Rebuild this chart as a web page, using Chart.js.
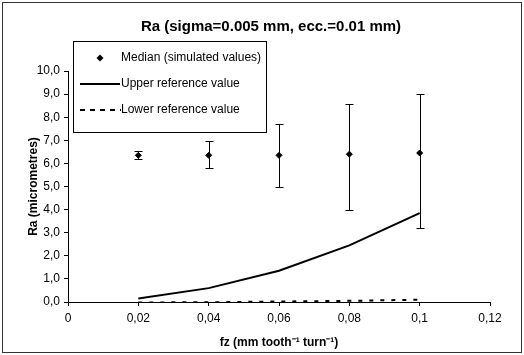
<!DOCTYPE html>
<html>
<head>
<meta charset="utf-8">
<script src="https://cdn.jsdelivr.net/npm/chart.js@4.4.0/dist/chart.umd.min.js"></script>
<style>
    html, body { margin: 0; padding: 0; background: #fff; }
    #wrap { width: 524px; height: 355px; position: relative; }
</style>
</head>
<body>
<div id="wrap"><canvas id="chart"></canvas></div>
<script>
// Data
const fz = [0.02, 0.04, 0.06, 0.08, 0.1];
const medianRa = [6.35, 6.35, 6.35, 6.4, 6.45];
const errLow = [6.2, 5.8, 5.0, 4.0, 3.2];
const errHigh = [6.55, 6.95, 7.7, 8.55, 9.0];
const upperRef = [0.15, 0.6, 1.35, 2.45, 3.85];
const lowerRef = [-0.02, -0.01, 0.02, 0.05, 0.1];

const xTickLabels = ['0', '0,02', '0,04', '0,06', '0,08', '0,1', '0,12'];
const yTickLabels = ['0,0', '1,0', '2,0', '3,0', '4,0', '5,0', '6,0', '7,0', '8,0', '9,0', '10,0'];

const chartTitle = 'Ra (sigma=0.005 mm, ecc.=0.01 mm)';

const FONT = 'Arial, "Liberation Sans", sans-serif';

function toPoints(ys) {
    return fz.map((x, i) => ({ x: x, y: ys[i] }));
}

// Error bars around the medians
const errorBars = {
    id: 'errorBars',
    afterDatasetsDraw(chart) {
        const ctx = chart.ctx;
        const xs = chart.scales.x, ys = chart.scales.y;
        ctx.save();
        ctx.strokeStyle = '#000';
        ctx.lineWidth = 1;
        fz.forEach((x, i) => {
            const px = Math.round(xs.getPixelForValue(x)) + 0.5;
            const lo = Math.round(ys.getPixelForValue(errLow[i])) + 0.5;
            const hi = Math.round(ys.getPixelForValue(errHigh[i])) + 0.5;
            ctx.beginPath();
            ctx.moveTo(px, lo); ctx.lineTo(px, hi);
            ctx.moveTo(px - 4, lo); ctx.lineTo(px + 4, lo);
            ctx.moveTo(px - 4, hi); ctx.lineTo(px + 4, hi);
            ctx.stroke();
        });
        ctx.restore();
    }
};

// Title, outer frame and the boxed legend inside the plot
const decorations = {
    id: 'decorations',
    afterDraw(chart) {
        const ctx = chart.ctx;
        ctx.save();
        ctx.strokeStyle = '#333';
        ctx.lineWidth = 1;
        ctx.strokeRect(2.5, 2.5, 519, 350);

        ctx.fillStyle = '#000';
        ctx.textAlign = 'center';
        ctx.textBaseline = 'middle';
        ctx.font = 'bold 15px ' + FONT;
        ctx.fillText(chartTitle, 271, 27);

        ctx.strokeStyle = '#000';
        ctx.fillStyle = '#fff';
        ctx.fillRect(73.5, 41.5, 193, 91);
        ctx.strokeRect(73.5, 41.5, 193, 91);

        ctx.font = '12px ' + FONT;
        ctx.textAlign = 'left';
        ctx.fillStyle = '#000';
        const ds = chart.data.datasets;
        const rows = [58, 84, 110];

        // median marker
        ctx.beginPath();
        ctx.moveTo(100, rows[0] - 3.5); ctx.lineTo(103.5, rows[0]);
        ctx.lineTo(100, rows[0] + 3.5); ctx.lineTo(96.5, rows[0]);
        ctx.closePath(); ctx.fill();
        ctx.fillText(ds[0].label, 121, rows[0]);

        ctx.lineWidth = 2;
        ctx.beginPath();
        ctx.moveTo(80, rows[1]); ctx.lineTo(120, rows[1]);
        ctx.stroke();
        ctx.fillText(ds[1].label, 121, rows[1]);

        ctx.setLineDash([5, 5]);
        ctx.beginPath();
        ctx.moveTo(80, rows[2]); ctx.lineTo(121, rows[2]);
        ctx.stroke();
        ctx.setLineDash([]);
        ctx.fillText(ds[2].label, 121, rows[2]);
        ctx.restore();
    }
};

new Chart(document.getElementById('chart'), {
    type: 'scatter',
    data: {
        datasets: [
            {
                label: 'Median (simulated values)',
                data: toPoints(medianRa),
                pointStyle: 'rectRot',
                pointRadius: 3,
                borderWidth: 1,
                backgroundColor: '#000',
                borderColor: '#000',
                showLine: false
            },
            {
                label: 'Upper reference value',
                data: toPoints(upperRef),
                showLine: true,
                borderColor: '#000',
                borderWidth: 2,
                pointRadius: 0
            },
            {
                label: 'Lower reference value',
                data: toPoints(lowerRef),
                showLine: true,
                borderColor: '#000',
                borderWidth: 2,
                borderDash: [4, 7],
                pointRadius: 0
            }
        ]
    },
    options: {
        responsive: true,
        maintainAspectRatio: false,
        animation: false,
        layout: { padding: { top: 71, right: 34, bottom: 0, left: 0 } },
        plugins: {
            legend: { display: false },
            tooltip: { enabled: false },
            title: { display: false }
        },
        scales: {
            x: {
                type: 'linear',
                min: 0,
                max: 0.12,
                afterFit: s => { s.height = 53; },
                afterBuildTicks: s => {
                    s.ticks = xTickLabels.map((t, i) => ({ value: i * 0.02 }));
                },
                ticks: {
                    color: '#000',
                    font: { family: FONT, size: 12 },
                    padding: 5,
                    callback: (v, i) => xTickLabels[i]
                },
                grid: { drawOnChartArea: false, drawTicks: true, tickLength: 4, color: '#000' },
                border: { display: true, color: '#000', width: 1 },
                title: {
                    display: true,
                    text: 'fz (mm tooth\u207B\u00B9 turn\u207B\u00B9)',
                    color: '#000',
                    font: { family: FONT, size: 12, weight: 'bold' },
                    padding: { top: 0, bottom: 5 }
                }
            },
            y: {
                min: 0,
                max: 10,
                afterFit: s => { s.width = 68; },
                afterBuildTicks: s => {
                    s.ticks = yTickLabels.map((t, i) => ({ value: i }));
                },
                ticks: {
                    color: '#000',
                    font: { family: FONT, size: 12 },
                    padding: 4,
                    callback: (v, i) => yTickLabels[i]
                },
                grid: { drawOnChartArea: false, drawTicks: true, tickLength: 4, color: '#000' },
                border: { display: true, color: '#000', width: 1 },
                title: {
                    display: true,
                    text: 'Ra (micrometres)',
                    color: '#000',
                    font: { family: FONT, size: 12, weight: 'bold' },
                    padding: { top: 26, bottom: 0 }
                }
            }
        }
    },
    plugins: [errorBars, decorations]
});
</script>
</body>
</html>
